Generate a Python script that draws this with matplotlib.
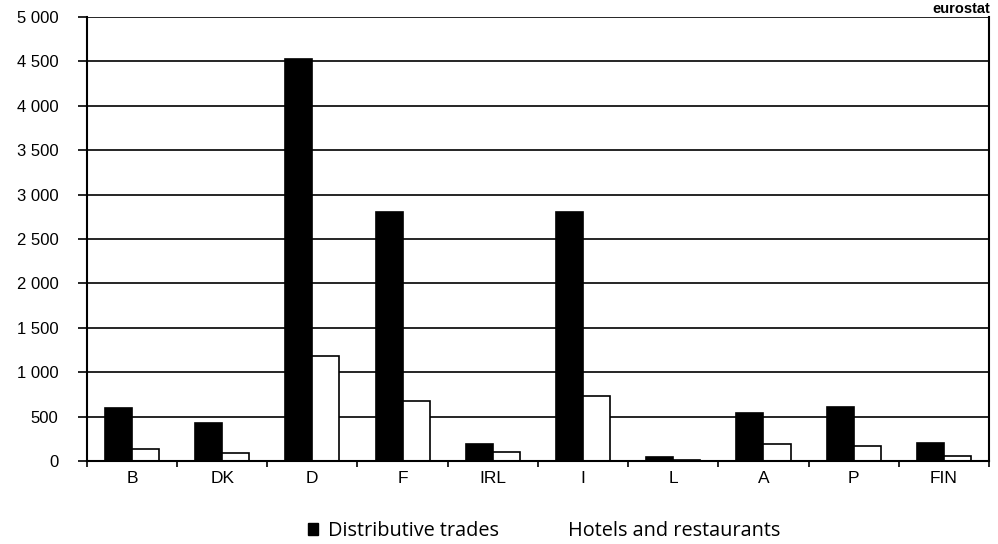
import numpy as np
import matplotlib.pyplot as plt
from matplotlib.patches import Patch

countries = ['B', 'DK', 'D', 'F', 'IRL', 'I', 'L', 'A', 'P', 'FIN']
distributive = [600, 430, 4530, 2800, 195, 2800, 40, 540, 610, 205]
hotels = [140, 85, 1180, 675, 105, 730, 8, 190, 170, 55]
yticks = list(range(0, 5001, 500))

fig = plt.figure(figsize=(9.98, 5.44), dpi=100)
ax = fig.add_axes([0.087, 0.1526, 0.904, 0.8162])

x = np.arange(len(countries))
ax.bar(x + 0.35, distributive, width=0.3, color='black', edgecolor='black',
       linewidth=1.2, zorder=3)
ax.bar(x + 0.65, hotels, width=0.3, color='white', edgecolor='black',
       linewidth=1.2, zorder=3)

ax.set_xlim(0, len(countries))
ax.set_ylim(0, 5000)

# y axis: space as thousands separator
ax.set_yticks(yticks)
ax.set_yticklabels([f'{v:,}'.replace(',', ' ') for v in yticks],
                   family='Liberation Sans', fontsize=12)
ax.yaxis.grid(True, color='black', linewidth=1.2, zorder=1)
ax.tick_params(axis='y', direction='out', length=6.5, width=1.2, pad=14)

# x axis: ticks on group boundaries, labels in between
ax.set_xticks(np.arange(len(countries) + 1))
ax.set_xticklabels([])
ax.set_xticks(x + 0.5, minor=True)
ax.set_xticklabels(countries, minor=True, family='Liberation Sans', fontsize=12.5)
ax.tick_params(axis='x', which='major', direction='out', length=4, width=1.2)
ax.tick_params(axis='x', which='minor', length=0, pad=7)

ax.spines['top'].set_visible(False)
for side in ['left', 'bottom', 'right']:
    ax.spines[side].set_linewidth(1.5)
    ax.spines[side].set_zorder(4)

fig.text(0.992, 0.97, 'eurostat', ha='right', va='bottom', fontsize=10.5,
         fontweight='bold', family='Liberation Sans')

handles = [Patch(facecolor='black', edgecolor='black'),
           Patch(facecolor='white', edgecolor='white')]
fig.legend(handles, ['Distributive trades', 'Hotels and restaurants'],
           loc='lower center', bbox_to_anchor=(0.545, -0.028), ncol=2, frameon=False,
           prop={'family': 'Open Sans', 'size': 14.3}, handlelength=0.55, handleheight=0.55,
           handletextpad=0.5, columnspacing=2.4)

fig.savefig('out.png', dpi=100)
